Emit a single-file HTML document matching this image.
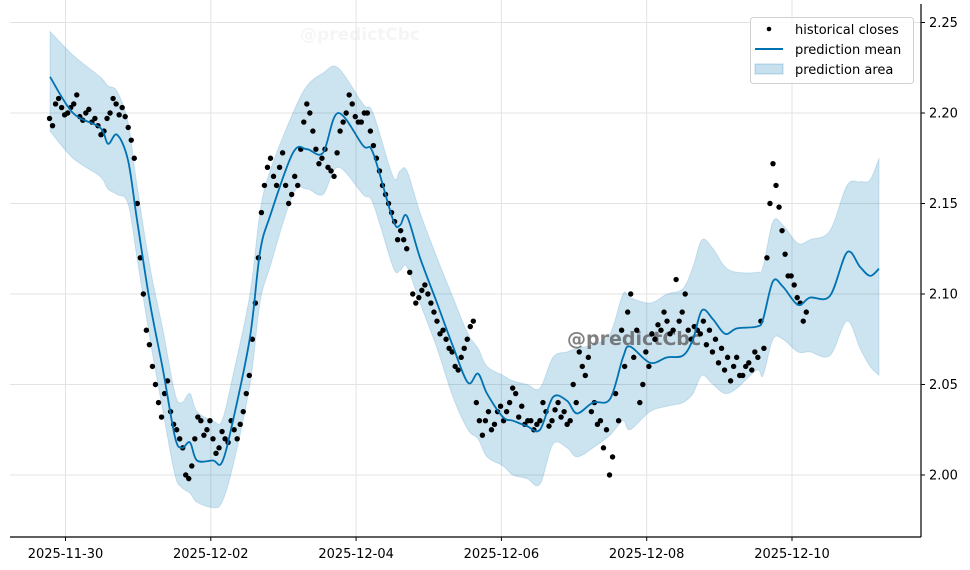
<!DOCTYPE html>
<html><head><meta charset="utf-8"><style>
html,body{margin:0;padding:0;background:#fff;}
svg{display:block;font-family:"DejaVu Sans","Liberation Sans",sans-serif;}
</style></head><body>
<svg id="chart" width="970" height="570" viewBox="0 0 970 570" xmlns="http://www.w3.org/2000/svg">
<defs><clipPath id="plotclip"><rect x="10" y="0" width="911" height="537"/></clipPath></defs>
<g id="grid"></g>
<text x="300" y="40" font-size="17" font-weight="bold" fill="#000" fill-opacity="0.04">@predictCbc</text>
<g id="band" clip-path="url(#plotclip)"></g>
<text x="567" y="345" font-size="19" font-weight="bold" fill="#555" fill-opacity="0.75">@predictCbc</text>
<g id="pts" clip-path="url(#plotclip)"></g>
<g id="meanline" clip-path="url(#plotclip)"></g>
<g id="axes"></g>
<g>
<rect x="750.5" y="17.5" width="163" height="66" rx="3" fill="#fff" fill-opacity="0.85" stroke="#d0d0d0"/>
<circle cx="769" cy="29" r="2.3" fill="#000"/>
<text x="795" y="34" font-size="13" fill="#000">historical closes</text>
<line x1="755" y1="49" x2="783" y2="49" stroke="#0072B2" stroke-width="2"/>
<text x="795" y="54" font-size="13" fill="#000">prediction mean</text>
<rect x="755" y="64" width="28" height="10" fill="#0072B2" fill-opacity="0.22" stroke="#0072B2" stroke-opacity="0.25"/>
<text x="795" y="74" font-size="13" fill="#000">prediction area</text>
</g>
</svg>
<script>
// days since 2025-11-30
const meanDays=[-0.213,0.103,0.475,0.585,0.709,0.860,0.984,1.163,1.342,1.507,1.603,1.713,1.810,2.030,2.154,2.305,2.539,2.677,2.815,3.131,3.324,3.544,3.751,4.095,4.233,4.508,4.604,4.700,4.880,5.114,5.334,5.540,5.678,5.802,6.022,6.159,6.352,6.531,6.710,6.903,7.040,7.261,7.495,7.674,7.770,8.046,8.280,8.500,8.637,8.761,8.913,9.078,9.243,9.518,9.601,9.738,9.876,10.082,10.247,10.523,10.757,10.936,11.074,11.198];
const meanVals=[2.220,2.200,2.192,2.183,2.188,2.174,2.141,2.095,2.058,2.021,2.015,2.018,2.008,2.008,2.007,2.030,2.076,2.123,2.143,2.178,2.180,2.178,2.200,2.182,2.178,2.141,2.138,2.143,2.120,2.095,2.071,2.051,2.056,2.045,2.032,2.030,2.027,2.025,2.043,2.041,2.034,2.040,2.042,2.065,2.071,2.062,2.065,2.066,2.075,2.091,2.086,2.078,2.081,2.082,2.086,2.107,2.104,2.094,2.098,2.099,2.123,2.115,2.110,2.114];
const upperVals=[2.245,2.232,2.220,2.215,2.212,2.195,2.160,2.115,2.080,2.045,2.040,2.045,2.035,2.030,2.030,2.055,2.100,2.145,2.168,2.200,2.215,2.222,2.225,2.205,2.200,2.165,2.168,2.168,2.145,2.120,2.098,2.078,2.070,2.060,2.055,2.052,2.050,2.048,2.065,2.068,2.070,2.072,2.078,2.100,2.098,2.095,2.100,2.103,2.115,2.130,2.125,2.115,2.112,2.112,2.115,2.140,2.138,2.128,2.130,2.135,2.160,2.162,2.163,2.175];
const lowerVals=[2.190,2.175,2.165,2.158,2.155,2.150,2.120,2.075,2.035,2.000,1.993,1.990,1.985,1.982,1.985,2.005,2.050,2.095,2.115,2.155,2.158,2.155,2.170,2.155,2.150,2.115,2.113,2.115,2.095,2.070,2.043,2.025,2.020,2.010,2.005,2.000,1.998,1.995,2.017,2.015,2.010,2.015,2.022,2.030,2.025,2.035,2.038,2.040,2.045,2.055,2.050,2.045,2.048,2.058,2.055,2.075,2.075,2.068,2.068,2.066,2.085,2.070,2.060,2.055];
const closeStart=-0.22, closeStep=1/12;
const closeVals=[2.197,2.205,2.203,2.200,2.205,2.198,2.200,2.195,2.193,2.190,2.200,2.205,2.203,2.192,2.175,2.120,2.080,2.060,2.040,2.045,2.035,2.025,2.015,1.998,2.020,2.030,2.025,2.020,2.015,2.020,2.030,2.020,2.035,2.055,2.095,2.145,2.170,2.165,2.170,2.160,2.155,2.160,2.195,2.200,2.180,2.175,2.170,2.165,2.190,2.200,2.205,2.195,2.200,2.190,2.175,2.160,2.150,2.140,2.135,2.125,2.100,2.098,2.105,2.095,2.085,2.080,2.070,2.060,2.065,2.075,2.085,2.030,2.030,2.025,2.035,2.030,2.040,2.045,2.038,2.030,2.025,2.030,2.035,2.030,2.040,2.035,2.030,2.040,2.060,2.065,2.040,2.030,2.025,2.010,2.030,2.060,2.100,2.080,2.050,2.060,2.075,2.080,2.085,2.080,2.085,2.100,2.075,2.080,2.085,2.080,2.075,2.070,2.065,2.060,2.055,2.060,2.058,2.065,2.070,2.150,2.160,2.135,2.110,2.105,2.095,2.090];
// closes at the intermediate hours (start + (k+0.5)*step)
const closeValsB=[2.193,2.208,2.199,2.203,2.210,2.196,2.202,2.197,2.188,2.197,2.208,2.199,2.198,2.185,2.150,2.100,2.072,2.050,2.032,2.052,2.028,2.020,2.000,2.005,2.032,2.022,2.030,2.012,2.024,2.018,2.025,2.028,2.045,2.075,2.120,2.160,2.175,2.160,2.178,2.150,2.165,2.180,2.205,2.190,2.172,2.180,2.168,2.178,2.195,2.210,2.198,2.195,2.200,2.182,2.168,2.155,2.145,2.130,2.130,2.112,2.095,2.102,2.100,2.090,2.078,2.075,2.068,2.058,2.070,2.082,2.040,2.022,2.035,2.028,2.038,2.035,2.048,2.032,2.028,2.030,2.028,2.040,2.027,2.036,2.032,2.028,2.050,2.068,2.055,2.035,2.028,2.015,2.000,2.045,2.080,2.090,2.065,2.040,2.068,2.078,2.083,2.090,2.078,2.108,2.090,2.080,2.082,2.078,2.072,2.068,2.062,2.058,2.052,2.065,2.055,2.062,2.068,2.085,2.120,2.172,2.148,2.122,2.110,2.098,2.085];
const yTicks=[2.00,2.05,2.10,2.15,2.20,2.25];
const xTickDays=[0,2,4,6,8,10];
const xTickLabels=["2025-11-30","2025-12-02","2025-12-04","2025-12-06","2025-12-08","2025-12-10"];

const X=d=>65.5+72.65*d;
const Y=v=>475-(v-2.00)*1810;
const NS="http://www.w3.org/2000/svg";
function mk(tag,attrs,parent){const e=document.createElementNS(NS,tag);for(const k in attrs)e.setAttribute(k,attrs[k]);parent.appendChild(e);return e;}
function smooth(xs,ys){let p=`M${xs[0]},${ys[0]}`;for(let i=0;i<xs.length-1;i++){const x0=xs[Math.max(i-1,0)],y0=ys[Math.max(i-1,0)],x1=xs[i],y1=ys[i],x2=xs[i+1],y2=ys[i+1],x3=xs[Math.min(i+2,xs.length-1)],y3=ys[Math.min(i+2,xs.length-1)];p+=` C${x1+(x2-x0)/6},${y1+(y2-y0)/6} ${x2-(x3-x1)/6},${y2-(y3-y1)/6} ${x2},${y2}`;}return p;}

const grid=document.getElementById('grid'),axes=document.getElementById('axes');
yTicks.forEach((t,i)=>{
 const g=mk('line',{x1:10,x2:921,y1:Y(t),y2:Y(t),stroke:'#e3e3e3','stroke-width':1},grid);
 
 
 const tk=mk('line',{x1:921,x2:925,y1:Y(t),y2:Y(t),stroke:'#000'},axes);
 
 
 const tx=mk('text',{x:929,y:Y(t)+4.5,'font-size':13,fill:'#000'},axes);
 tx.textContent=t.toFixed(2);
 
 
});
xTickDays.forEach((d,i)=>{
 const g=mk('line',{x1:X(d),x2:X(d),y1:0,y2:537,stroke:'#e3e3e3','stroke-width':1},grid);
 
 
 const tk=mk('line',{x1:X(d),x2:X(d),y1:537,y2:541,stroke:'#000'},axes);
 
 
 const tx=mk('text',{x:X(d),y:558,'font-size':13,fill:'#000','text-anchor':'middle'},axes);
 tx.textContent=xTickLabels[i];
 
 
});
const sx=mk('line',{x1:10,x2:921,y1:537,y2:537,stroke:'#000','stroke-width':1.2},axes);


const sy=mk('line',{x1:921,x2:921,y1:4,y2:537,stroke:'#000','stroke-width':1.2},axes);



const mx=meanDays.map(X);
const up=smooth(mx,upperVals.map(Y));
const loR=smooth(mx.slice().reverse(),lowerVals.map(Y).reverse());
const band=mk('path',{d:up+' L'+loR.slice(1)+' Z',fill:'#0072B2','fill-opacity':0.2,stroke:'#0072B2','stroke-opacity':0.15},document.getElementById('band'));



const pts=document.getElementById('pts');
closeVals.forEach((v,i)=>{
 const c=mk('circle',{cx:X(closeStart+i*closeStep),cy:Y(v),r:2.7,fill:'#000'},pts);
 
 
});
closeValsB.forEach((v,i)=>{
 const c=mk('circle',{cx:X(closeStart+(i+0.5)*closeStep),cy:Y(v),r:2.7,fill:'#000'},pts);
 
 
});
const ml=mk('path',{d:smooth(mx,meanVals.map(Y)),fill:'none',stroke:'#0072B2','stroke-width':1.8},document.getElementById('meanline'));


</script>
</body></html>
